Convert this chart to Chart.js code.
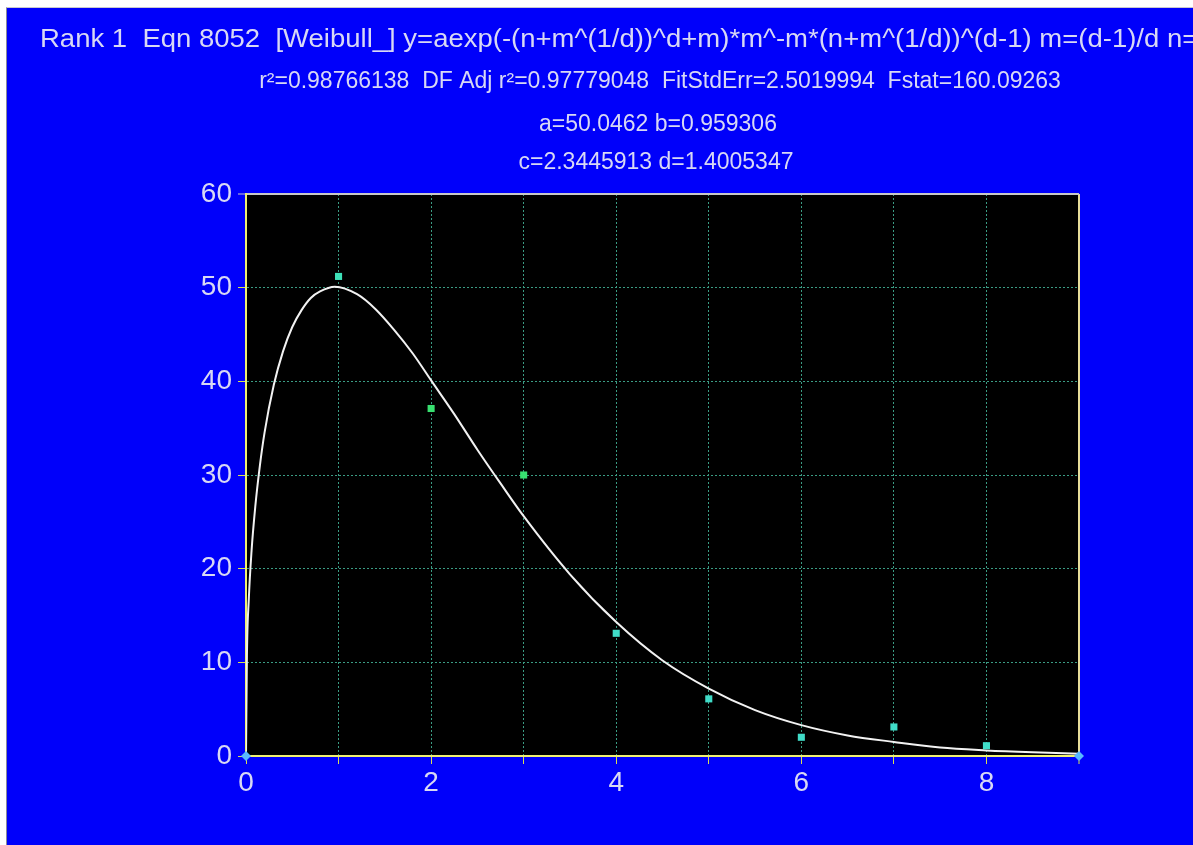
<!DOCTYPE html>
<html>
<head>
<meta charset="utf-8">
<script src="https://cdn.jsdelivr.net/npm/chart.js@4.4.0/dist/chart.umd.min.js"></script>
<style>
  html, body { margin: 0; padding: 0; background: #fff; overflow: hidden; }
  #frame {
    position: absolute; left: 6px; top: 7px;
    width: 1187px; height: 838px;
    background: #0000fa;
    border-left: 1px solid #8a8a9a;
    border-top: 1px solid #c8c8d0;
  }
  #chart { display: block; }
</style>
</head>
<body>
<div id="frame"><canvas id="chart" width="1186" height="837"></canvas></div>
<script>
// --- Data ---
const titleLines = [
  'Rank 1  Eqn 8052  [Weibull_] y=aexp(-(n+m^(1/d))^d+m)*m^-m*(n+m^(1/d))^(d-1) m=(d-1)/d n=(x-b)/c',
  'r\u00b2=0.98766138  DF Adj r\u00b2=0.97779048  FitStdErr=2.5019994  Fstat=160.09263',
  'a=50.0462 b=0.959306',
  'c=2.3445913 d=1.4005347'
];

const pointX = [1, 2, 3, 4, 5, 6, 7, 8];
const pointY = [51.2, 37.1, 30.0, 13.1, 6.1, 2.0, 3.1, 1.1];
const pointColors = ['#3de0b8', '#38e070', '#38e070', '#40dcc8', '#40dcc8', '#40dcc8', '#40dcc8', '#40dcc8'];

const cornerX = [0, 9];
const cornerY = [0, 0];

const curveX = [0, 0.01, 0.03, 0.06, 0.1, 0.15, 0.2, 0.3, 0.4, 0.5, 0.6, 0.7, 0.8, 0.96,
  1.2, 1.4, 1.6, 1.8, 2.0, 2.25, 2.5, 2.75, 3.0, 3.5, 4.0, 4.5, 5.0, 5.5, 6.0, 6.5,
  7.0, 7.5, 8.0, 8.5, 9.0];
const curveY = [0, 10.7, 16.7, 21.9, 26.6, 31.0, 34.5, 39.6, 43.2, 45.8, 47.6, 48.9, 49.6, 50.1,
  49.3, 47.7, 45.5, 43.0, 40.1, 36.5, 32.7, 29.1, 25.6, 19.4, 14.3, 10.2, 7.2, 4.9, 3.3, 2.2,
  1.5, 0.9, 0.6, 0.4, 0.25];

const xTicks = [0, 2, 4, 6, 8];

// --- Helpers ---
const zip = (xs, ys) => xs.map((x, i) => ({ x, y: ys[i] }));

const TEXT = '#d8d8f4';
const GRID = '#3a9c84';
const FONT = 'Arial, "Liberation Sans", sans-serif';

// black plot area
const plotBg = {
  id: 'plotBg',
  beforeDraw(chart) {
    const { ctx, chartArea: a } = chart;
    ctx.save();
    ctx.fillStyle = '#000';
    ctx.fillRect(a.left, a.top, a.right - a.left, a.bottom - a.top);
    ctx.restore();
  }
};

// header text lines above the plot
const header = {
  id: 'header',
  afterDraw(chart) {
    const ctx = chart.ctx;
    ctx.save();
    ctx.fillStyle = TEXT;
    ctx.textBaseline = 'middle';
    // first line is a bit wider in the original, stretch it sideways
    ctx.save();
    ctx.translate(33, 32);
    ctx.scale(1.1, 1);
    ctx.textAlign = 'left';
    ctx.font = '25px ' + FONT;
    ctx.fillText(titleLines[0], 0, 0);
    ctx.restore();
    ctx.textAlign = 'center';
    ctx.font = '23px ' + FONT;
    const cx = 651;
    ctx.fillText(titleLines[1], cx + 2, 74);
    ctx.fillText(titleLines[2], cx, 117);
    ctx.fillText(titleLines[3], cx - 2, 155);
    ctx.restore();
  }
};

new Chart(document.getElementById('chart'), {
  type: 'scatter',
  data: {
    datasets: [
      {
        data: zip(pointX, pointY),
        pointStyle: 'rect',
        pointRadius: 5,
        pointBackgroundColor: pointColors,
        pointBorderWidth: 0,
        showLine: false,
      },
      {
        data: zip(cornerX, cornerY),
        pointStyle: 'rectRot',
        pointRadius: 5,
        pointBackgroundColor: '#58b8ff',
        pointBorderWidth: 0,
        showLine: false,
        clip: false,
      },
      {
        data: zip(curveX, curveY),
        showLine: true,
        borderColor: '#f2f2f2',
        borderWidth: 2,
        pointRadius: 0,
        cubicInterpolationMode: 'monotone',
        fill: false,
      },
    ]
  },
  options: {
    responsive: false,
    animation: false,
    layout: { padding: { left: 0, top: 186, right: 114, bottom: 0 } },
    plugins: { legend: { display: false }, tooltip: { enabled: false } },
    scales: {
      x: {
        type: 'linear',
        min: 0,
        max: 9,
        afterFit: s => { s.height = 89; },
        afterBuildTicks: s => { s.ticks = [0, 1, 2, 3, 4, 5, 6, 7, 8, 9].map(v => ({ value: v })); },
        grid: {
          color: c => c.tick && c.tick.value === 9 ? '#e6dc9a' : GRID,
          lineWidth: c => c.tick && c.tick.value === 9 ? 2 : 1,
          tickColor: '#d8e050',
          tickLength: 8,
          tickWidth: 1,
        },
        border: {
          color: '#f0f070',
          width: 2,
          dash: c => c.tick && c.tick.value === 9 ? [] : [2, 2],
        },
        ticks: {
          color: TEXT,
          font: { family: FONT, size: 28 },
          padding: 2,
          maxRotation: 0,
          autoSkip: false,
          callback: v => xTicks.includes(v) ? String(v) : '',
        },
      },
      y: {
        type: 'linear',
        min: 0,
        max: 60,
        afterFit: s => { s.width = 239; },
        ticks: {
          stepSize: 10,
          color: TEXT,
          font: { family: FONT, size: 28 },
          padding: 6,
        },
        grid: {
          color: c => c.tick && c.tick.value === 60 ? '#c8c8c8' : GRID,
          lineWidth: c => c.tick && c.tick.value === 60 ? 2 : 1,
          tickColor: c => c.tick && c.tick.value === 60 ? '#c8c8c8' : '#d8e050',
          tickLength: 8,
          tickWidth: 1,
        },
        border: {
          color: '#f0f070',
          width: 2,
          dash: c => c.tick && c.tick.value === 60 ? [] : [2, 2],
        },
      }
    }
  },
  plugins: [plotBg, header]
});
</script>
</body>
</html>
